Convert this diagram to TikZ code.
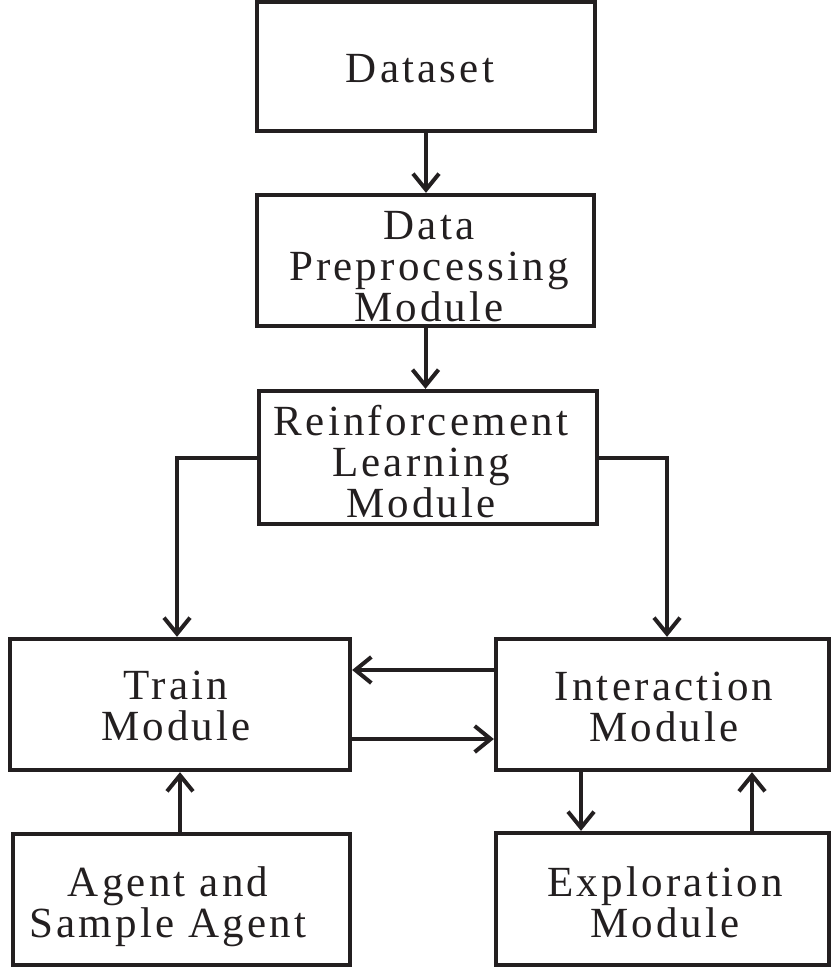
\documentclass[tikz,border=0pt]{standalone}
\usepackage{fontspec}
\setmainfont[LetterSpace=7.5]{Liberation Serif}
\usetikzlibrary{arrows.meta}
\definecolor{ink}{HTML}{231F20}
\tikzset{
  modbox/.style={draw=ink, line width=4.3pt, rectangle, inner sep=0pt},
  modtext/.style={text=ink, align=center, inner sep=0pt,
    font=\fontsize{43}{41}\selectfont},
  flow/.style={draw=ink, line width=4pt,
    -{Straight Barb[length=16pt,width=26pt]}}
}
\begin{document}
\begin{tikzpicture}[x=1pt,y=-1pt]
\useasboundingbox (0,0) rectangle (833,970);

% module frames
\node[modbox, minimum width=338pt, minimum height=129pt] (ds) at (426,66.5) {};
\node[modbox, minimum width=337pt, minimum height=131pt] (pp) at (425.5,260.5) {};
\node[modbox, minimum width=338pt, minimum height=133pt] (rl) at (428,457.5) {};
\node[modbox, minimum width=340pt, minimum height=131pt] (tr) at (180,704.5) {};
\node[modbox, minimum width=333pt, minimum height=131pt] (ia) at (662.5,704.5) {};
\node[modbox, minimum width=337pt, minimum height=131pt] (ag) at (181.5,899.5) {};
\node[modbox, minimum width=333pt, minimum height=132pt] (ex) at (662.5,899) {};

% module captions
\node[modtext] (dst) at (420,69) {Dataset};
\node[modtext] (ppt) at (429,267) {Data\\Preprocessing\\Module};
\node[modtext] (rlt) at (421,461.5) {Reinforcement\\Learning\\Module};
\node[modtext] (trt) at (176,706) {Train\\Module};
\node[modtext] (iat) at (664,707) {Interaction\\Module};
\node[modtext] (agt) at (168,907) {Agent and\\Sample Agent};
\node[modtext] (ext) at (665,902) {Exploration\\Module};

% data flow
\draw[flow] (ds.south) -- (ds.south |- pp.north);
\draw[flow] (pp.south) -- (pp.south |- rl.north);
\draw[flow] (rl.west) -| ([xshift=-3pt]tr.north);
\draw[flow] (rl.east) -| ([xshift=4.5pt]ia.north);
\coordinate (iaw) at ([yshift=34.5pt]ia.west);
\draw[flow] (iaw) -- (tr.east |- iaw);
\coordinate (tre) at ([yshift=-34.5pt]tr.east);
\draw[flow] (tre) -- (ia.west |- tre);
\draw[flow] ([xshift=-1.5pt]ag.north) -- ([xshift=-1.5pt]ag.north |- tr.south);
\coordinate (iad) at ([xshift=-81.5pt]ia.south);
\draw[flow] (iad) -- (iad |- ex.north);
\coordinate (exu) at ([xshift=89.5pt]ex.north);
\draw[flow] (exu) -- (exu |- ia.south);
\end{tikzpicture}
\end{document}
